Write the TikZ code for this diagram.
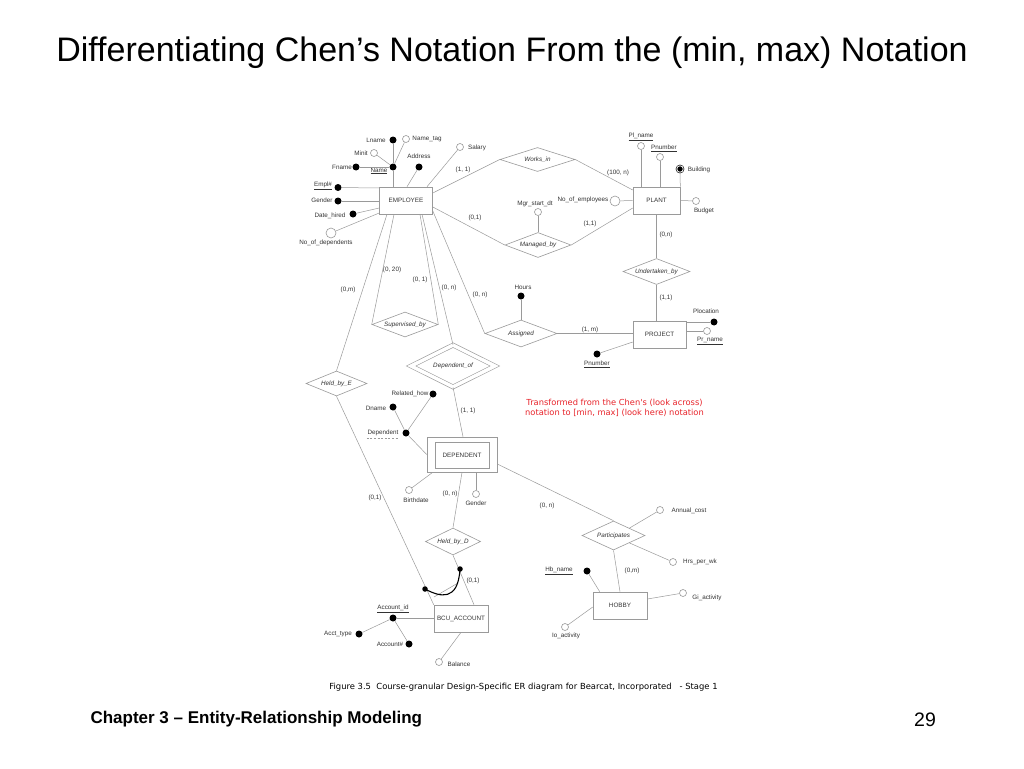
\documentclass[tikz,border=0pt]{standalone}
\usepackage{fontspec}
\setmainfont{Liberation Sans}
\newfontfamily\comicf{DejaVu Sans}
\usetikzlibrary{shapes.geometric}
\definecolor{lc}{HTML}{9A9A9A}
\definecolor{tc}{HTML}{333333}
\definecolor{rc}{HTML}{E8232A}
\newcommand\erf{\fontsize{6.3}{7.5}\selectfont}
\begin{document}
\begin{tikzpicture}[x=1pt,y=-1pt,
 ent/.style={draw=lc,line width=0.6pt,rectangle,inner sep=0pt,font=\erf,text=tc},
 rel/.style={draw=lc,line width=0.6pt,diamond,inner sep=0pt,font=\erf\itshape,text=tc},
 ok/.style={circle,draw=lc,line width=0.6pt,fill=white,inner sep=0pt,minimum size=7pt},
 dot/.style={circle,fill=black,inner sep=0pt,minimum size=7pt},
 lab/.style={inner sep=0.5pt,font=\erf,text=tc},
 card/.style={inner sep=0.5pt,font=\erf,text=tc},
 ln/.style={draw=lc,line width=0.5pt}]
\path[use as bounding box,fill=white] (0,0) rectangle (1024,768);

% titles
\node[anchor=base,font=\fontsize{34}{40}\selectfont,text=black] (title) at (512,61) {Differentiating Chen's Notation From the (min, max) Notation};
\node[anchor=base west,font=\bfseries\fontsize{17}{20}\selectfont] (chap) at (87,723) {Chapter 3 – Entity-Relationship Modeling};
\node[anchor=base,font=\fontsize{19.5}{22}\selectfont] (page) at (925,726) {29};
\node[anchor=base,font=\comicf\fontsize{8.4}{10}\selectfont,text=black] (cap) at (523.5,689) {Figure 3.5\ \ Course-granular Design-Specific ER diagram for Bearcat, Incorporated\ \ \ - Stage 1};
\node[font=\comicf\fontsize{8.3}{10.5}\selectfont,text=rc,align=center] (note) at (614.5,408) {Transformed from the Chen's (look across)\\notation to [min, max] (look here) notation};

% entities
\node[ent,minimum width=53pt,minimum height=27pt] (emp) at (406,200.5) {EMPLOYEE};
\node[ent,minimum width=47pt,minimum height=27pt] (plant) at (656.5,200.5) {PLANT};
\node[ent,minimum width=53pt,minimum height=27pt] (proj) at (659.5,334.5) {PROJECT};
\node[ent,minimum width=70pt,minimum height=35pt] (dep) at (462,454.5) {};
\node[ent,minimum width=54pt,minimum height=26pt] (depin) at (462,455) {DEPENDENT};
\node[ent,minimum width=54pt,minimum height=27pt] (bcu) at (461,618.5) {BCU\_ACCOUNT};
\node[ent,minimum width=54pt,minimum height=27pt] (hobby) at (620,605.5) {HOBBY};

% relationships
\node[rel,aspect=3.1,minimum width=75pt,minimum height=24pt] (works) at (537.5,159.5) {Works\_in};
\node[rel,aspect=2.6,minimum width=66pt,minimum height=25pt] (managed) at (538,245) {Managed\_by};
\node[rel,aspect=2.6,minimum width=67pt,minimum height=26pt] (und) at (656.5,271.5) {Undertaken\_by};
\node[rel,aspect=2.6,minimum width=66pt,minimum height=25pt] (sup) at (405,324.5) {Supervised\_by};
\node[rel,aspect=2.7,minimum width=72pt,minimum height=27pt] (assigned) at (521,333.5) {Assigned};
\node[rel,aspect=2,double=white,double distance=3.5pt,minimum width=84pt,minimum height=42pt] (depof) at (453,366) {Dependent\_of};
\node[rel,aspect=2.4,minimum width=61pt,minimum height=25pt] (heldE) at (336.5,383.5) {Held\_by\_E};
\node[rel,aspect=2,minimum width=55pt,minimum height=27pt] (heldD) at (453,541.5) {Held\_by\_D};
\node[rel,aspect=2.2,minimum width=63pt,minimum height=29pt] (part) at (613.5,535.5) {Participates};

% EMPLOYEE attributes
\node[dot] (lname) at (393,140) {};
\node[ok] (nametag) at (406,139) {};
\node[ok] (minit) at (374,153) {};
\node[dot] (fname) at (356,167) {};
\node[dot] (name) at (393,167) {};
\node[dot] (addr) at (419,167) {};
\node[ok] (salary) at (460,147) {};
\node[dot] (emplno) at (338,187.5) {};
\node[dot] (egender) at (338,201) {};
\node[dot] (dhired) at (353,214) {};
\node[ok,minimum size=10pt] (nodeps) at (331,233) {};
\node[lab] (t-lname) at (376,140) {Lname};
\node[lab] (t-nametag) at (427,139) {Name\_tag};
\node[lab] (t-minit) at (361,153) {Minit};
\node[lab] (t-fname) at (342,167) {Fname};
\node[lab] (t-name) at (379,171) {\underline{Name}};
\node[lab] (t-addr) at (419,156) {Address};
\node[lab] (t-salary) at (477,148) {Salary};
\node[lab] (t-emplno) at (323,186) {\underline{Empl\#}};
\node[lab] (t-egender) at (322,200) {Gender};
\node[lab] (t-dhired) at (330,216) {Date\_hired};
\node[lab] (t-nodeps) at (326,243) {No\_of\_dependents};

% PLANT attributes
\node[ok] (plname) at (641,146) {};
\node[lab] (t-plname) at (641,137) {\underline{Pl\_name}};
\node[ok] (pnum) at (660,157) {};
\node[lab] (t-pnum) at (664,148) {\underline{Pnumber}};
\node[circle,fill=black,draw=black,line width=0.6pt,double=white,double distance=0.8pt,inner sep=0pt,minimum size=6.5pt] (build) at (680,169) {};
\node[lab] (t-build) at (699,170) {Building};
\node[ok,minimum size=10pt] (noemp) at (615,201) {};
\node[lab] (t-noemp) at (583,200) {No\_of\_employees};
\node[ok] (budget) at (696,201) {};
\node[lab] (t-budget) at (704,211) {Budget};
\node[ok] (mgrdt) at (538,212) {};
\node[lab] (t-mgrdt) at (535,204) {Mgr\_start\_dt};

% PROJECT attributes
\node[dot] (ploc) at (714,322) {};
\node[lab] (t-ploc) at (706,311) {Plocation};
\node[ok] (prname) at (707,331) {};
\node[lab] (t-prname) at (710,341) {\underline{Pr\_name}};
\node[dot] (prnum) at (597,354) {};
\node[lab] (t-prnum) at (597,364) {\underline{Pnumber}};
\node[dot] (hours) at (521,296) {};
\node[lab] (t-hours) at (523,287) {Hours};

% DEPENDENT attributes
\node[dot] (relhow) at (433,394) {};
\node[lab] (t-relhow) at (410,394) {Related\_how};
\node[dot] (dname) at (393,407) {};
\node[lab] (t-dname) at (376,408) {Dname};
\node[dot] (depkey) at (406,433) {};
\node[lab] (t-depkey) at (383,433) {Dependent};
\draw[lc,line width=0.5pt,dash pattern=on 2pt off 1.6pt] ([yshift=-2pt]t-depkey.south west) -- ([yshift=-2pt]t-depkey.south east);
\node[ok] (bdate) at (409,490) {};
\node[lab] (t-bdate) at (416,500) {Birthdate};
\node[ok] (dgender) at (476,494) {};
\node[lab] (t-dgender) at (476,503) {Gender};

% BCU_ACCOUNT attributes
\node[dot] (accid) at (393,618) {};
\node[lab] (t-accid) at (393,609) {\underline{Account\_id}};
\node[dot] (accttype) at (359,634) {};
\node[lab] (t-accttype) at (338,634) {Acct\_type};
\node[dot] (accno) at (409,644) {};
\node[lab] (t-accno) at (390,644) {Account\#};
\node[ok] (balance) at (439,662) {};
\node[lab] (t-balance) at (459,664) {Balance};

% HOBBY / Participates attributes
\node[dot] (hbname) at (587,571) {};
\node[lab] (t-hbname) at (559,571) {\underline{Hb\_name}};
\node[ok] (giact) at (683,593) {};
\node[lab] (t-giact) at (707,598) {Gi\_activity};
\node[ok] (ioact) at (565,627) {};
\node[lab] (t-ioact) at (566,636) {Io\_activity};
\node[ok] (anncost) at (660,510) {};
\node[lab] (t-anncost) at (689,511) {Annual\_cost};
\node[ok] (hrs) at (673,562) {};
\node[lab] (t-hrs) at (700,562) {Hrs\_per\_wk};

% cardinalities
\node[card] (c1) at (463,170) {(1, 1)};
\node[card] (c2) at (618,173) {(100, n)};
\node[card] (c3) at (475,218) {(0,1)};
\node[card] (c4) at (590,224) {(1,1)};
\node[card] (c5) at (666,235) {(0,n)};
\node[card] (c6) at (666,298) {(1,1)};
\node[card] (c7) at (590,330) {(1, m)};
\node[card] (c8) at (480,295) {(0, n)};
\node[card] (c9) at (392,270) {(0, 20)};
\node[card] (c10) at (420,280) {(0, 1)};
\node[card] (c11) at (449,288) {(0, n)};
\node[card] (c12) at (348,290) {(0,m)};
\node[card] (c13) at (468,411) {(1, 1)};
\node[card] (c14) at (375,498) {(0,1)};
\node[card] (c15) at (450,494) {(0, n)};
\node[card] (c16) at (473,581) {(0,1)};
\node[card] (c17) at (547,506) {(0, n)};
\node[card] (c18) at (632,571) {(0,m)};

% connectors
\draw[ln] (lname) -- (name);
\draw[ln] (nametag) -- (name);
\draw[ln] (minit) -- (name);
\draw[ln] (fname) -- (name);
\draw[ln] (name) -- ([xshift=-13pt]emp.north);
\draw[ln] (addr) -- ([xshift=1pt]emp.north);
\draw[ln] (salary) -- ([xshift=21pt]emp.north);
\draw[ln] (emplno) -- ([yshift=12.5pt]emp.west);
\draw[ln] (egender) -- ([yshift=-0.5pt]emp.west);
\draw[ln] (dhired) -- ([yshift=-7.5pt]emp.west);
\draw[ln] (nodeps) -- ([yshift=-12.5pt]emp.west);
\draw[ln] ([yshift=7.5pt]emp.east) -- (works.west);
\draw[ln] (works.east) -- ([yshift=10.5pt]plant.west);
\draw[ln] ([yshift=-6.5pt]emp.east) -- (managed.west);
\draw[ln] (managed.east) -- ([yshift=-7.5pt]plant.west);
\draw[ln] (mgrdt) -- (managed.north);
\draw[ln] (plname) -- (plname |- plant.north);
\draw[ln] (pnum) -- (pnum |- plant.north);
\draw[ln] (build) -- (plant.north east);
\draw[ln] (noemp) -- (plant.west);
\draw[ln] (budget) -- (plant.east);
\draw[ln] (plant.south) -- (und.north);
\draw[ln] (und.south) -- (und.south |- proj.north);
\draw[ln] (ploc) -- (ploc -| proj.east);
\draw[ln] (prname) -- (prname -| proj.east);
\draw[ln] (prnum) -- ([yshift=-7.5pt]proj.west);
\draw[ln] (assigned.east) -- (assigned.east -| proj.west);
\draw[ln] (hours) -- (assigned.north);
\draw[ln] ([xshift=-19pt]emp.south) -- (heldE.north);
\draw[ln] ([xshift=-12pt]emp.south) -- (sup.west);
\draw[ln] ([xshift=14pt]emp.south) -- (sup.east);
\draw[ln] ([xshift=16pt]emp.south) -- (depof.north);
\draw[ln] ([yshift=-10.5pt]emp.east) -- (assigned.west);
\draw[ln] (depof.south) -- ([xshift=1pt]dep.north);
\draw[ln] (relhow) -- (depkey);
\draw[ln] (dname) -- (depkey);
\draw[ln] (depkey) -- (dep.west);
\draw[ln] (bdate) -- ([xshift=6pt]dep.south west);
\draw[ln] (dgender) -- (dgender |- dep.south);
\draw[ln] (dep.south) -- (heldD.north);
\draw[ln] ([yshift=-9.5pt]dep.east) -- (part.north);
\draw[ln] (heldE.south) -- (bcu.north west);
\draw[ln] (heldD.south) -- ([xshift=13pt]bcu.north);
\draw[ln] (accid) -- (accid -| bcu.west);
\draw[ln] (accttype) -- (accid);
\draw[ln] (accno) -- (accid);
\draw[ln] (balance) -- (bcu.south);
\draw[ln] (part.south) -- (hobby.north);
\draw[ln] (hbname) -- ([xshift=7pt]hobby.north west);
\draw[ln] (giact) -- ([yshift=6.5pt]hobby.east);
\draw[ln] (ioact) -- ([yshift=-1.5pt]hobby.west);
\draw[ln] (anncost) -- (part.north east);
\draw[ln] (hrs) -- (part.south east);

% hand-drawn cardinality swap curve
\coordinate (s1) at (434,597);
\coordinate (s2) at (458,583);
\draw[ln] (s1) -- (s2);
\node[dot,minimum size=5.5pt] (k1) at (425,589) {};
\node[dot,minimum size=5.5pt] (k2) at (460,569) {};
\draw[black,line width=1.1pt,line cap=round] (k1.center) .. controls (440,597) and (458,602) .. (k2.center);
\end{tikzpicture}
\end{document}
